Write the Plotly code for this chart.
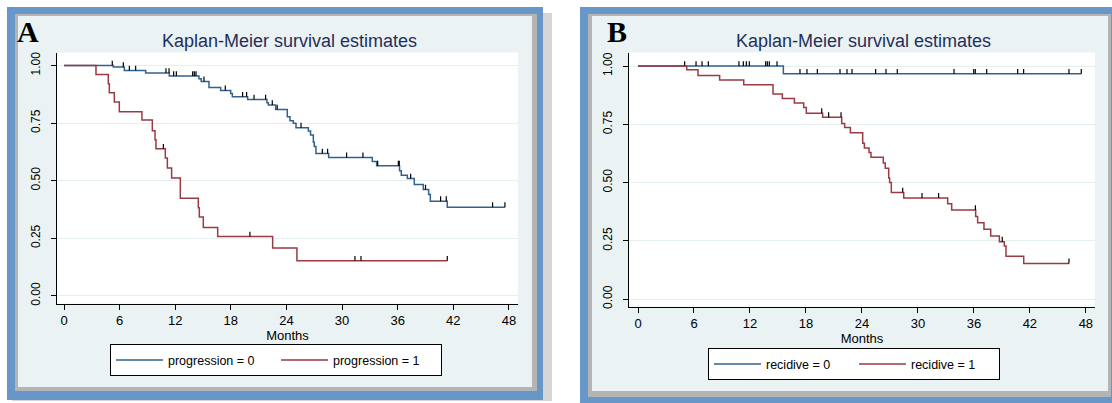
import numpy as np
import plotly.graph_objects as go

W, H = 1112, 403
FONT = "Liberation Sans"

# ---------------- data ----------------
months_ticks = [0, 6, 12, 18, 24, 30, 36, 42, 48]
surv_ticks = [0.0, 0.25, 0.5, 0.75, 1.0]
surv_labels = ["0.00", "0.25", "0.50", "0.75", "1.00"]

# Panel A: progression = 0
a0_event_t = [5.32, 6.51, 8.81, 11.36, 14.56, 14.8, 15.64, 16.9, 17.98, 18.16, 19.81, 21.9,
              22.04, 22.83, 24.09, 24.38, 24.74, 25.03, 26.36, 26.6, 26.9, 27.0, 27.18, 28.55,
              33.26, 33.73, 36.2, 36.39, 37.04, 37.79, 38.76, 39.34, 39.52, 41.35]
a0_event_s = [0.993, 0.978, 0.967, 0.954, 0.943, 0.931, 0.904, 0.892, 0.878, 0.864, 0.852, 0.838,
              0.828, 0.809, 0.777, 0.760, 0.749, 0.730, 0.716, 0.698, 0.667, 0.648, 0.618, 0.601,
              0.583, 0.565, 0.543, 0.523, 0.509, 0.483, 0.461, 0.440, 0.411, 0.385]
a0_censor_t = [5.21, 6.40, 7.05, 7.73, 11.0, 11.33, 11.83, 12.12, 13.88, 14.06, 14.24, 15.1,
               17.4, 19.27, 19.7, 20.5, 21.75, 22.47, 23.0, 25.57, 27.87, 28.44, 30.49, 32.25,
               33.84, 36.07, 36.17, 37.4, 39.0, 40.63, 41.24, 46.24, 47.57]

# Panel A: progression = 1
a1_event_t = [3.45, 4.78, 4.89, 5.43, 5.97, 8.41, 9.53, 9.82, 9.92, 10.93, 11.15, 11.61,
              12.55, 14.49, 14.6, 15.03, 16.58, 22.51, 25.13]
a1_event_s = [0.961, 0.921, 0.882, 0.842, 0.799, 0.763, 0.717, 0.678, 0.638, 0.598, 0.555, 0.512,
              0.424, 0.382, 0.342, 0.297, 0.257, 0.207, 0.152]
a1_censor_t = [10.72, 20.06, 31.39, 32.04, 41.35]

# Panel B: recidive = 0
b0_event_t = [15.58]
b0_event_s = [0.967]
b0_censor_t = [5.0, 6.22, 6.86, 7.54, 10.82, 11.29, 11.61, 11.93, 13.68, 13.86, 14.07, 14.9,
               17.36, 18.11, 19.22, 21.65, 22.4, 22.94, 25.47, 26.58, 27.79, 33.87, 35.98, 36.15,
               37.37, 40.69, 41.33, 46.19, 47.51]

# Panel B: recidive = 1
b1_event_t = [5.22, 6.43, 8.75, 11.33, 14.47, 15.47, 16.76, 17.76, 18.04, 19.79, 21.83, 22.15,
              22.76, 24.08, 24.26, 24.76, 24.97, 26.29, 26.5, 26.87, 26.97, 27.15, 28.48, 33.19,
              33.62, 36.19, 36.4, 37.08, 37.8, 38.73, 39.26, 39.44, 41.34]
b1_event_s = [0.984, 0.960, 0.940, 0.920, 0.880, 0.861, 0.842, 0.822, 0.798, 0.781, 0.754, 0.737,
              0.714, 0.669, 0.648, 0.629, 0.609, 0.584, 0.562, 0.520, 0.500, 0.457, 0.434, 0.409,
              0.382, 0.354, 0.328, 0.300, 0.271, 0.246, 0.228, 0.184, 0.153]
b1_censor_t = [19.69, 20.43, 21.76, 28.37, 30.44, 32.22, 36.16, 39.04, 46.19]

BLUE = "#33608d"
RED = "#9a3a42"


def surv_at(t, ev_t, ev_s):
    i = int(np.searchsorted(ev_t, t, side="right"))
    return 1.0 if i == 0 else ev_s[i - 1]


def px_x(x):
    return x / W


def px_y(y):
    return 1 - y / H


fig = go.Figure()


def add_km(ev_t, ev_s, cens_t, color, name, xa, ya, legend):
    end = max(max(cens_t), max(ev_t))
    xs = [0] + list(ev_t) + [end]
    ys = [1.0] + list(ev_s) + [ev_s[-1]]
    fig.add_trace(go.Scatter(x=xs, y=ys, mode="lines", line=dict(color=color, width=1.5, shape="hv"),
                             name=name, xaxis=xa, yaxis=ya, legend=legend, hoverinfo="skip"))
    cy = [surv_at(t, ev_t, ev_s) for t in cens_t]
    fig.add_trace(go.Scatter(x=cens_t, y=cy, mode="markers", marker=dict(size=1, opacity=0),
                             error_y=dict(type="constant", symmetric=False, value=0.021, valueminus=0,
                                          width=0, thickness=1.2, color="black"),
                             showlegend=False, xaxis=xa, yaxis=ya, hoverinfo="skip"))


add_km(a0_event_t, a0_event_s, a0_censor_t, BLUE, "progression = 0", "x", "y", "legend")
add_km(a1_event_t, a1_event_s, a1_censor_t, RED, "progression = 1", "x", "y", "legend")
add_km(b0_event_t, b0_event_s, b0_censor_t, BLUE, "recidive = 0", "x2", "y2", "legend2")
add_km(b1_event_t, b1_event_s, b1_censor_t, RED, "recidive = 1", "x2", "y2", "legend2")

# ---------------- frames ----------------
shapes = []


def rect(x0, y0, x1, y1, color):
    shapes.append(dict(type="rect", xref="paper", yref="paper", x0=px_x(x0), x1=px_x(x1),
                       y0=px_y(y1), y1=px_y(y0), fillcolor=color, line=dict(width=0), layer="below"))


# panel A
rect(12, 12, 552, 403, "#d6d6d6")
rect(7, 6, 543, 402, "#6797c9")
rect(15, 13, 537, 393, "#b4b4b4")
rect(18, 15, 532, 389, "#eaf2f3")
rect(57, 52, 518, 305, "white")
# panel B
rect(580, 6, 1120, 410, "#6797c9")
rect(588, 13, 1111, 399, "#b4b4b4")
rect(592, 15, 1108, 393, "#eaf2f3")
rect(629, 52, 1095, 308, "white")

axis_common = dict(showline=True, linecolor="black", linewidth=1, ticks="outside", ticklen=5,
                   tickcolor="black", tickwidth=1, zeroline=False, fixedrange=True)

xcommon = dict(axis_common, tickvals=months_ticks, showgrid=False,
               tickfont=dict(size=13, color="black", family=FONT),
               title=dict(text="Months", font=dict(size=13, color="black", family=FONT), standoff=0))
ycommon = dict(axis_common, tickvals=surv_ticks, ticktext=surv_labels, showgrid=True,
               gridcolor="#e6eff0", gridwidth=1, tickangle=-90, ticklabelstandoff=6,
               tickfont=dict(size=12, color="black", family=FONT))

legend_common = dict(xanchor="left", yanchor="top", orientation="h",
                     bgcolor="white", bordercolor="black", borderwidth=1,
                     font=dict(size=12.5, color="black", family=FONT),
                     itemwidth=47, entrywidthmode="pixels", tracegroupgap=0)

fig.update_layout(
    width=W, height=H, autosize=False,
    margin=dict(l=0, r=0, t=0, b=0),
    paper_bgcolor="white", plot_bgcolor="white",
    font=dict(family=FONT, color="black"),
    shapes=shapes,
    xaxis=dict(xcommon, domain=[px_x(57), px_x(518)], range=[-0.755, 48.98], anchor="y"),
    yaxis=dict(ycommon, domain=[px_y(305), px_y(52)], range=[-0.0345, 1.056], anchor="x"),
    xaxis2=dict(xcommon, domain=[px_x(629), px_x(1095)], range=[-0.965, 48.98], anchor="y2"),
    yaxis2=dict(ycommon, domain=[px_y(308), px_y(52)], range=[-0.0328, 1.058], anchor="x2"),
    legend=dict(legend_common, x=px_x(110), y=px_y(346), entrywidth=103),
    legend2=dict(legend_common, x=px_x(708), y=px_y(350), entrywidth=83),
    annotations=[
        dict(text="Kaplan-Meier survival estimates", x=px_x(289), y=px_y(40), xref="paper", yref="paper",
             showarrow=False, xanchor="center", yanchor="middle",
             font=dict(size=18, color="#1f2f5c", family=FONT)),
        dict(text="Kaplan-Meier survival estimates", x=px_x(863), y=px_y(40), xref="paper", yref="paper",
             showarrow=False, xanchor="center", yanchor="middle",
             font=dict(size=18, color="#1f2f5c", family=FONT)),
        dict(text="<b>A</b>", x=px_x(28), y=px_y(31), xref="paper", yref="paper", showarrow=False,
             xanchor="center", yanchor="middle", font=dict(size=30, color="black", family="Liberation Serif")),
        dict(text="<b>B</b>", x=px_x(617), y=px_y(31), xref="paper", yref="paper", showarrow=False,
             xanchor="center", yanchor="middle", font=dict(size=30, color="black", family="Liberation Serif")),
    ],
)

fig.write_html("out.html", config={"displayModeBar": False, "staticPlot": True},
               post_script="document.body.style.margin='0';document.body.style.padding='0';"
                           "document.documentElement.style.overflow='hidden';")
